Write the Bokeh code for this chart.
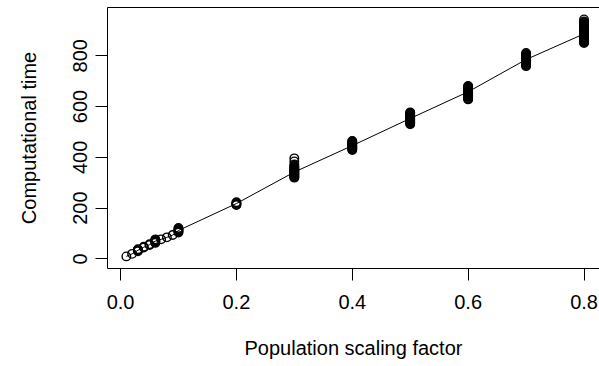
from bokeh.plotting import figure
from bokeh.models import Range1d, LinearAxis, FixedTicker
from bokeh.embed import file_html
from bokeh.resources import INLINE

# ---- data ----
t_001 = [10]
t_002 = [20]
t_003 = [30, 33, 36, 38]
t_004 = [45, 48]
t_005 = [55, 58]
t_006 = [63, 66, 68, 70, 72, 74, 77]
t_007 = [77]
t_008 = [85]
t_009 = [94]
t_010 = [104, 108, 111, 115, 118, 122]
t_020 = [212, 214, 217, 220, 223]
t_030 = [396, 384, 372, 366, 362, 358, 355, 352, 349, 346, 343, 340, 337, 334, 331, 328, 325, 322, 320]
t_040 = [429, 432, 435, 438, 441, 444, 447, 450, 453, 456, 459, 462, 464]
t_050 = [530, 533, 536, 539, 542, 545, 548, 551, 554, 557, 560, 563, 566, 569, 572, 575, 577]
t_060 = [628, 631, 634, 637, 640, 643, 646, 649, 652, 655, 658, 661, 664, 667, 670, 673, 676, 679, 681]
t_070 = [759, 762, 765, 768, 771, 774, 777, 780, 783, 786, 789, 792, 795, 798, 801, 804, 807, 811]
t_080 = [850, 853, 856, 859, 862, 866, 869, 872, 875, 878, 881, 884, 887, 890, 893, 896, 899, 902,
         905, 908, 911, 914, 917, 920, 923, 926, 929, 932, 935, 943]

groups = [
    (0.01, t_001), (0.02, t_002), (0.03, t_003), (0.04, t_004), (0.05, t_005),
    (0.06, t_006), (0.07, t_007), (0.08, t_008), (0.09, t_009), (0.1, t_010),
    (0.2, t_020), (0.3, t_030), (0.4, t_040), (0.5, t_050), (0.6, t_060),
    (0.7, t_070), (0.8, t_080),
]
scale_factor = [x for x, ts in groups for _ in ts]
comp_time = [t for _, ts in groups for t in ts]

line_x = [0.01, 0.02, 0.03, 0.04, 0.05, 0.06, 0.07, 0.08, 0.09, 0.1, 0.2, 0.3, 0.4, 0.5, 0.6, 0.7, 0.8]
line_y = [10, 20, 34, 46, 56, 70, 77, 85, 94, 112, 218, 342, 446, 553, 658, 785, 886]

x_ticks = [0.0, 0.2, 0.4, 0.6, 0.8]
x_tick_labels = ["0.0", "0.2", "0.4", "0.6", "0.8"]
y_ticks = [0, 200, 400, 600, 800]
y_tick_labels = ["0", "200", "400", "600", "800"]

x_title = "Population scaling factor"
y_title = "Computational time"

FONT = "Liberation Sans"
FS = "20px"

p = figure(
    width=599, height=366, output_backend="svg", toolbar_location=None,
    x_range=Range1d(-0.0225, 0.8267), y_range=Range1d(-37.7, 989.8),
    min_border_left=107, min_border_right=0, min_border_top=7, min_border_bottom=98,
    x_axis_location=None, y_axis_location=None,
)
p.outline_line_color = None
p.xgrid.visible = False
p.ygrid.visible = False
p.background_fill_color = "white"
p.border_fill_color = "white"

def style_axis(ax):
    ax.axis_line_color = "black"
    ax.axis_line_width = 1
    ax.major_tick_line_color = "black"
    ax.major_tick_line_width = 1
    ax.major_tick_in = 0
    ax.major_tick_out = 12
    ax.minor_tick_line_color = None
    ax.major_label_text_font = FONT
    ax.major_label_text_font_size = FS
    ax.major_label_text_color = "black"
    ax.axis_label_text_font = FONT
    ax.axis_label_text_font_size = FS
    ax.axis_label_text_font_style = "normal"
    ax.axis_label_text_color = "black"

xa = LinearAxis(ticker=FixedTicker(ticks=x_ticks), axis_label=x_title)
style_axis(xa)
xa.major_label_overrides = {t: l for t, l in zip(x_ticks, x_tick_labels)}
xa.major_label_standoff = 14
xa.axis_label_standoff = 25
p.add_layout(xa, "below")

ya = LinearAxis(ticker=FixedTicker(ticks=y_ticks), axis_label=y_title)
style_axis(ya)
ya.major_label_overrides = {t: l for t, l in zip(y_ticks, y_tick_labels)}
ya.major_label_orientation = "vertical"
ya.major_label_standoff = 8
ya.axis_label_standoff = 31
p.add_layout(ya, "left")

top = LinearAxis(ticker=FixedTicker(ticks=[]))
top.axis_line_color = "black"
top.axis_line_width = 1
top.major_tick_line_color = None
top.minor_tick_line_color = None
top.major_label_standoff = 0
top.major_tick_out = 0
top.major_label_text_font_size = "0px"
p.add_layout(top, "above")

p.line(line_x, line_y, line_color="black", line_width=1)
p.scatter(scale_factor, comp_time, marker="circle", size=8.5, fill_color=None,
          line_color="black", line_width=1.4)

open("out.html", "w").write(file_html(p, INLINE))
